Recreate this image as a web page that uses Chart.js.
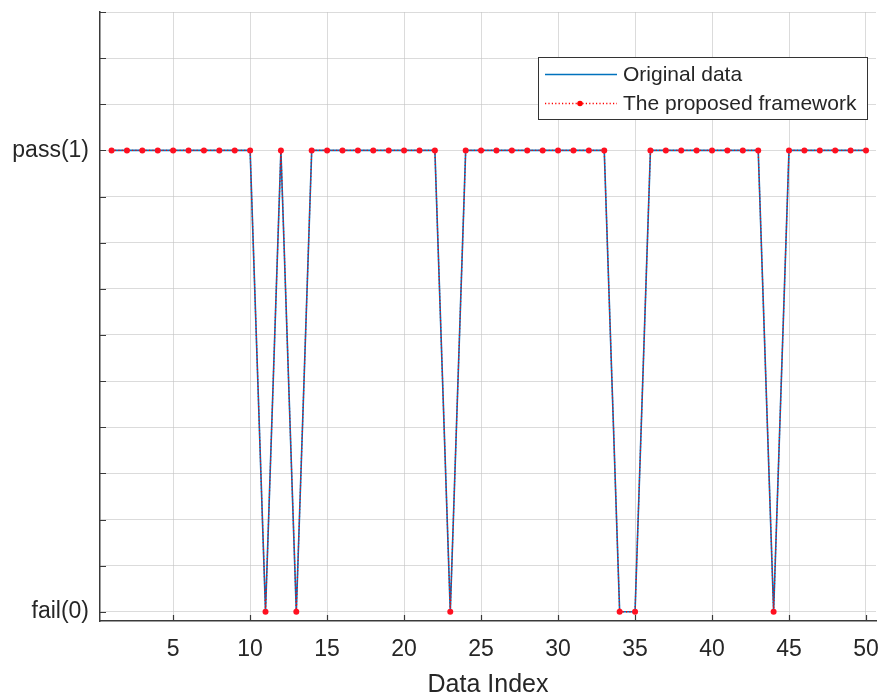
<!DOCTYPE html>
<html>
<head>
<meta charset="utf-8">
<script src="https://cdn.jsdelivr.net/npm/chart.js@4.4.1/dist/chart.umd.min.js"></script>
<style>
  html, body { margin: 0; padding: 0; background: #ffffff; }
  #wrap { width: 880px; height: 696px; }
</style>
</head>
<body>
<div id="wrap"><canvas id="c" width="880" height="696"></canvas></div>
<script>
// ---- data ----
const dataIndex = [1,2,3,4,5,6,7,8,9,10,11,12,13,14,15,16,17,18,19,20,21,22,23,24,25,26,27,28,29,30,31,32,33,34,35,36,37,38,39,40,41,42,43,44,45,46,47,48,49,50];
const originalData = [1,1,1,1,1,1,1,1,1,1, 0,1,0,1,1,1,1,1,1,1, 1,1,0,1,1,1,1,1,1,1, 1,1,1,0,0,1,1,1,1,1, 1,1,1,0,1,1,1,1,1,1];
const proposedData = [1,1,1,1,1,1,1,1,1,1, 0,1,0,1,1,1,1,1,1,1, 1,1,0,1,1,1,1,1,1,1, 1,1,1,0,0,1,1,1,1,1, 1,1,1,0,1,1,1,1,1,1];
const seriesNames = ["Original data", "The proposed framework"];
const xTickValues = [5,10,15,20,25,30,35,40,45,50];
const yTickValues = [0,0.1,0.2,0.3,0.4,0.5,0.6,0.7,0.8,0.9,1.0,1.1,1.2,1.3];
const yTickLabels = {"0": "fail(0)", "1": "pass(1)"};
const xTitle = "Data Index";

const FONT = "'Liberation Sans', Arial, Helvetica, sans-serif";
const TEXT = '#262626';
const AXIS = '#3a3a3a';
const GRID = 'rgba(195,195,195,0.6)';

const inwardTicks = {
  id: 'inwardTicks',
  afterDraw(chart) {
    const ctx = chart.ctx;
    const xs = chart.scales.x, ys = chart.scales.y;
    const a = chart.chartArea;
    ctx.save();
    ctx.strokeStyle = AXIS;
    ctx.lineWidth = 1.2;
    ctx.beginPath();
    ys.ticks.forEach(t => {
      const y = Math.round(ys.getPixelForValue(t.value)) + 0.5;
      ctx.moveTo(a.left, y); ctx.lineTo(a.left + 6, y);
    });
    xs.ticks.forEach(t => {
      const x = Math.round(xs.getPixelForValue(t.value)) + 0.5;
      ctx.moveTo(x, a.bottom); ctx.lineTo(x, a.bottom - 6);
    });
    ctx.stroke();
    ctx.restore();
  }
};

const customLegend = {
  id: 'customLegend',
  afterDraw(chart) {
    const ctx = chart.ctx;
    const bx = 538, by = 57, bw = 329, bh = 62;
    ctx.save();
    ctx.fillStyle = '#ffffff';
    ctx.fillRect(bx, by, bw, bh);
    ctx.strokeStyle = '#333333';
    ctx.lineWidth = 1;
    ctx.strokeRect(bx + 0.5, by + 0.5, bw, bh);
    ctx.strokeStyle = '#0072BD';
    ctx.lineWidth = 1.6;
    ctx.setLineDash([]);
    ctx.beginPath(); ctx.moveTo(545, 74.5); ctx.lineTo(617, 74.5); ctx.stroke();
    ctx.strokeStyle = '#FF0000';
    ctx.lineWidth = 1.4;
    ctx.setLineDash([1.2, 2.2]);
    ctx.beginPath(); ctx.moveTo(545, 103.5); ctx.lineTo(617, 103.5); ctx.stroke();
    ctx.setLineDash([]);
    ctx.fillStyle = '#FF0000';
    ctx.beginPath(); ctx.arc(580, 103.5, 2.8, 0, Math.PI * 2); ctx.fill();
    ctx.fillStyle = TEXT;
    ctx.font = "21px " + FONT;
    ctx.textBaseline = 'middle';
    ctx.textAlign = 'left';
    ctx.fillText(seriesNames[0], 623, 75);
    ctx.fillText(seriesNames[1], 623, 104);
    ctx.restore();
  }
};

new Chart(document.getElementById('c'), {
  type: 'line',
  data: {
    labels: dataIndex,
    datasets: [
      {
        label: seriesNames[1],
        data: dataIndex.map((x, i) => ({x: x, y: proposedData[i]})),
        borderColor: '#FF0000',
        borderWidth: 1.3,
        borderDash: [1.2, 2.2],
        pointRadius: 3,
        pointBackgroundColor: '#FF1020',
        pointBorderWidth: 0,
        pointBorderColor: '#FF1020',
        tension: 0,
        order: 0
      },
      {
        label: seriesNames[0],
        data: dataIndex.map((x, i) => ({x: x, y: originalData[i]})),
        borderColor: '#0072BD',
        borderWidth: 1.6,
        pointRadius: 0,
        tension: 0,
        order: 1
      }
    ]
  },
  options: {
    responsive: false,
    animation: false,
    devicePixelRatio: 1,
    layout: { padding: { top: 12, right: 4, left: 0, bottom: 0 } },
    plugins: {
      legend: { display: false },
      tooltip: { enabled: false }
    },
    scales: {
      x: {
        type: 'linear',
        min: 0.25,
        max: 50.65,
        afterBuildTicks(scale) { scale.ticks = xTickValues.map(v => ({value: v})); },
        afterFit(scale) { scale.height = 75; scale.paddingLeft = 0; scale.paddingRight = 0; },
        grid: { color: GRID, lineWidth: 1, drawTicks: false },
        border: { display: true, color: AXIS, width: 1.5 },
        ticks: {
          color: TEXT,
          font: { family: FONT, size: 23 },
          padding: 15,
          maxRotation: 0,
          autoSkip: false,
          callback: v => String(v)
        },
        title: {
          display: true,
          text: xTitle,
          color: TEXT,
          font: { family: FONT, size: 25, lineHeight: 0.85 },
          padding: { top: 0, bottom: 0 }
        }
      },
      y: {
        type: 'linear',
        min: -0.02,
        max: 1.3,
        afterBuildTicks(scale) { scale.ticks = yTickValues.map(v => ({value: v})); },
        afterFit(scale) { scale.width = 100; scale.paddingTop = 0; scale.paddingBottom = 0; },
        grid: { color: GRID, lineWidth: 1, drawTicks: false },
        border: { display: true, color: AXIS, width: 1.5 },
        ticks: {
          color: TEXT,
          font: { family: FONT, size: 23 },
          padding: 11,
          autoSkip: false,
          callback: v => {
            const k = String(Math.round(v * 10) / 10);
            return yTickLabels[k] !== undefined ? yTickLabels[k] : '';
          }
        }
      }
    }
  },
  plugins: [inwardTicks, customLegend]
});
</script>
</body>
</html>
